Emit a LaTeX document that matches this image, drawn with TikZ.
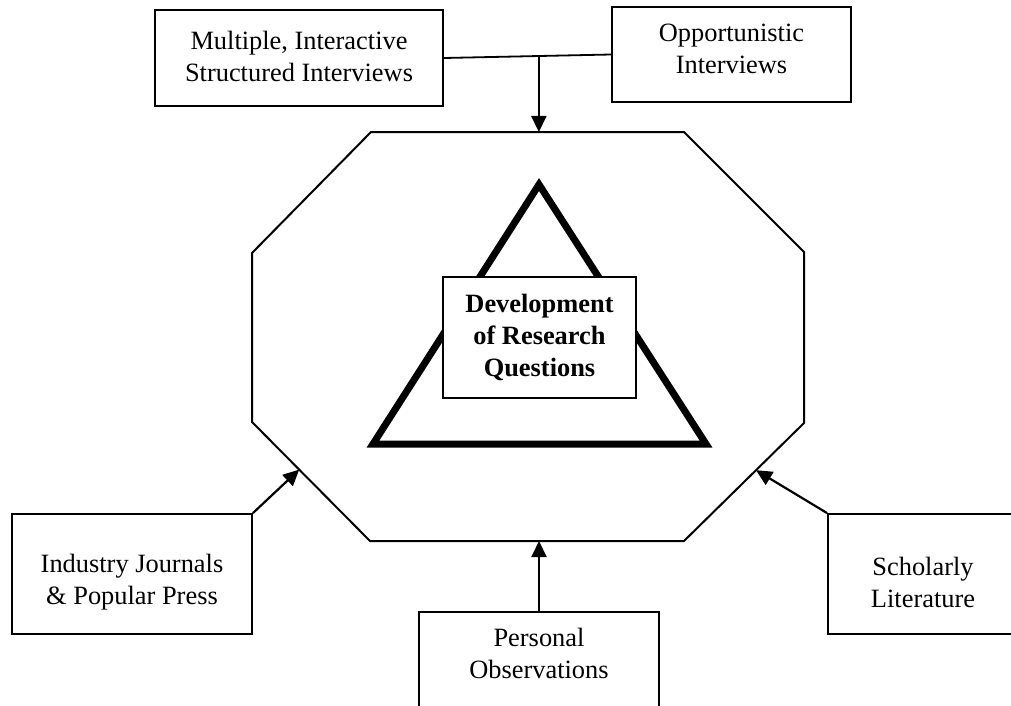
\documentclass[tikz,border=0pt]{standalone}
\usepackage{fontspec}
\setmainfont{Liberation Serif}
\usetikzlibrary{calc,positioning,arrows.meta}

\tikzset{
  srcbox/.style={draw,line width=0.9pt,align=center,inner sep=0pt},
  srctext/.style={align=center,inner sep=0pt},
  feed/.style={-{Triangle[length=8pt,width=7.5pt]},line width=1.1pt},
}

\begin{document}
\begin{tikzpicture}[x=0.5pt,y=-0.5pt,font=\fontsize{13.2}{16}\selectfont,line join=miter]
\useasboundingbox (0,0) rectangle (1011,706);
\clip (0,0) rectangle (1011,706);
% octagon
\coordinate (o1) at (371,132);
\coordinate (o2) at (684,132);
\coordinate (o3) at (804,252);
\coordinate (o4) at (804,423);
\coordinate (o5) at (684,541);
\coordinate (o6) at (370,541);
\coordinate (o7) at (252,422);
\coordinate (o8) at (252,253);
\draw[line width=1pt] (o1) -- (o2) -- (o3) -- (o4) -- (o5) -- (o6) -- (o7) -- (o8) -- cycle;
% thick triangle
\draw[line width=3.5pt] (539,184.5) -- (706,444) -- (373,444) -- cycle;
% centre box
\node[srcbox,fill=white,font=\fontsize{13.2}{16}\selectfont\bfseries,
  minimum width=96.5pt,minimum height=60.5pt] (rq) at (539.5,337.5)
  {Development\\of Research\\Questions};
% sources
\node[srcbox,minimum width=144pt,minimum height=48pt,
  label={[srctext,yshift=1pt]center:Multiple, Interactive\\Structured Interviews}] (multi) at (299,58) {};
\node[srcbox,minimum width=119.5pt,minimum height=47.5pt,
  label={[srctext,yshift=2.75pt]center:Opportunistic\\Interviews}] (oppo) at (731.5,54.5) {};
\node[srcbox,minimum width=120pt,minimum height=60pt,
  label={[srctext,yshift=-4pt]center:Industry Journals\\\& Popular Press}] (press) at (132,574) {};
\node[srcbox,minimum width=95pt,minimum height=60pt,
  label={[srctext,yshift=-4pt]center:Scholarly\\Literature}] (schol) at (923,574) {};
\node[srcbox,minimum width=120pt,minimum height=60pt,anchor=north,
  label={[srctext,yshift=9.25pt]center:Personal\\Observations}] (pers) at (539,611) {};
% connectors
\draw[line width=0.9pt] (multi.east) -- (oppo.west) coordinate[pos=0.568] (join);
\draw[feed] (join) -- (join |- o1);
\draw[feed] (press.north east) -- ($(o7)!0.4!(o6)$);
\draw[feed] (schol.north west) -- ($(o4)!0.4!(o5)$);
\draw[feed] (pers.north) -- (pers.north |- o6);
\end{tikzpicture}
\end{document}
